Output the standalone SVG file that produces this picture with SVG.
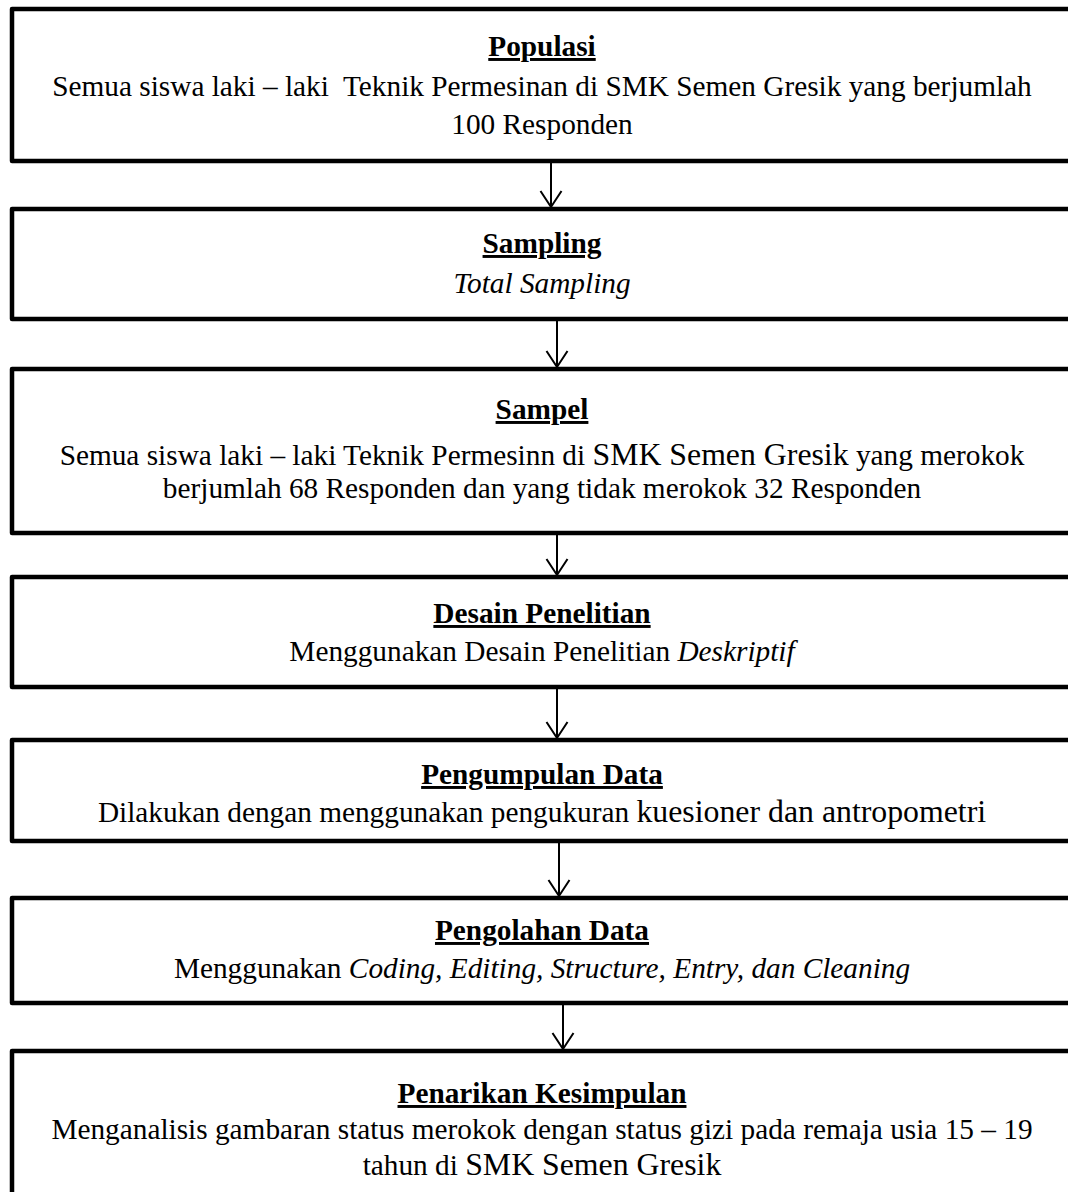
<svg xmlns="http://www.w3.org/2000/svg" width="1068" height="1192" viewBox="0 0 1068 1192">
<style>
.box{fill:#fff;stroke:#000;stroke-width:4.5;stroke-linejoin:round}
text{font-family:"Liberation Serif","Times New Roman",serif;font-size:29.3px;fill:#000;text-anchor:middle}
.t{font-weight:bold;text-decoration:underline}
.i{font-style:italic}
.big{font-size:31.8px}
.arr{stroke:#000;stroke-width:2;fill:none}
</style>
<defs>
<marker id="ah" markerUnits="userSpaceOnUse" markerWidth="30" markerHeight="30" viewBox="-20 -15 30 30" refX="0" refY="0" orient="auto">
<path d="M-16,-10.5 L0,0 L-16,10.5" fill="none" stroke="#000" stroke-width="2"/>
</marker>
</defs>
<rect width="1068" height="1192" fill="#fff"/>
<g id="connectors">
<line class="arr" x1="551" y1="163" x2="551" y2="207" marker-end="url(#ah)"/>
<line class="arr" x1="557" y1="321" x2="557" y2="367" marker-end="url(#ah)"/>
<line class="arr" x1="557" y1="535" x2="557" y2="575" marker-end="url(#ah)"/>
<line class="arr" x1="557" y1="689" x2="557" y2="738" marker-end="url(#ah)"/>
<line class="arr" x1="559" y1="843" x2="559" y2="896" marker-end="url(#ah)"/>
<line class="arr" x1="563" y1="1005" x2="563" y2="1049" marker-end="url(#ah)"/>
</g>
<g id="populasi">
<rect class="box" x="12" y="9" width="1080" height="152"/>
<text class="t" x="542" y="56">Populasi</text>
<text x="542" y="96" style="white-space:pre">Semua siswa laki – laki  Teknik Permesinan di SMK Semen Gresik yang berjumlah</text>
<text x="542" y="134">100 Responden</text>
</g>
<g id="sampling">
<rect class="box" x="12" y="209" width="1080" height="110"/>
<text class="t" x="542" y="253">Sampling</text>
<text class="i" x="542" y="293">Total Sampling</text>
</g>
<g id="sampel">
<rect class="box" x="12" y="369" width="1080" height="164"/>
<text class="t" x="542" y="419">Sampel</text>
<text x="542" y="465">Semua siswa laki – laki Teknik Permesinn di <tspan class="big">SMK Semen Gresik</tspan> yang merokok</text>
<text x="542" y="498">berjumlah 68 Responden dan yang tidak merokok 32 Responden</text>
</g>
<g id="desain">
<rect class="box" x="12" y="577" width="1080" height="110"/>
<text class="t" x="542" y="623">Desain Penelitian</text>
<text x="542" y="661">Menggunakan Desain Penelitian <tspan class="i">Deskriptif</tspan></text>
</g>
<g id="pengumpulan">
<rect class="box" x="12" y="740" width="1080" height="101"/>
<text class="t" x="542" y="784">Pengumpulan Data</text>
<text x="542" y="822">Dilakukan dengan menggunakan pengukuran <tspan class="big">kuesioner dan antropometri</tspan></text>
</g>
<g id="pengolahan">
<rect class="box" x="12" y="898" width="1080" height="105"/>
<text class="t" x="542" y="940">Pengolahan Data</text>
<text x="542" y="978">Menggunakan <tspan class="i">Coding, Editing, Structure, Entry, dan Cleaning</tspan></text>
</g>
<g id="penarikan">
<rect class="box" x="12" y="1051" width="1080" height="160"/>
<text class="t" x="542" y="1103">Penarikan Kesimpulan</text>
<text x="542" y="1139">Menganalisis gambaran status merokok dengan status gizi pada remaja usia 15 – 19</text>
<text x="542" y="1175">tahun di <tspan class="big">SMK Semen Gresik</tspan></text>
</g>
</svg>
